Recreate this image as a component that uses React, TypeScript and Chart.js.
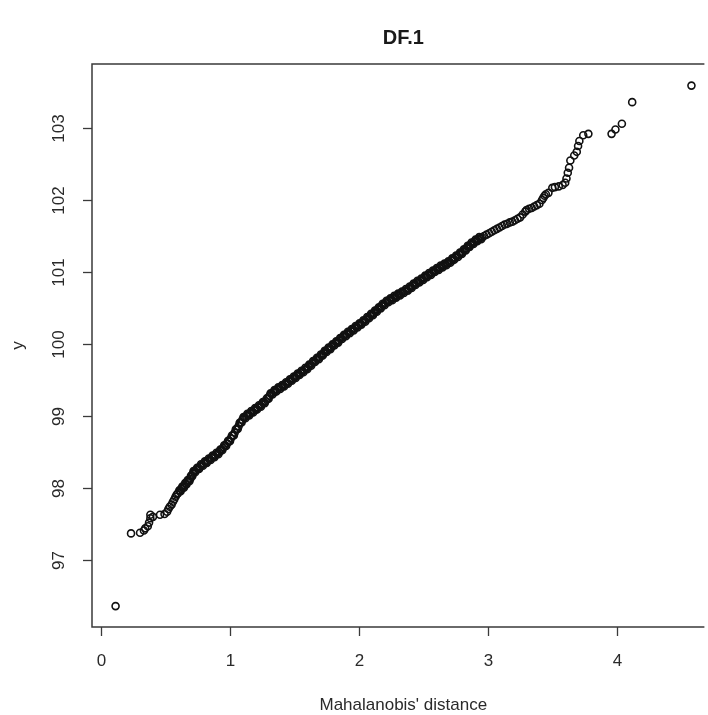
import React, { useEffect, useRef } from "react";
import { Chart, registerables } from "chart.js";

Chart.register(...registerables);

const chartTitle = "DF.1";
const xTitle = "Mahalanobis' distance";
const yTitle = "y";
const xTicks = [0, 1, 2, 3, 4];
const yTicks = [97, 98, 99, 100, 101, 102, 103];

// points (main pass)
const mahalanobis = [
  0.11, 0.23, 0.30, 0.33, 0.34, 0.36, 0.37, 0.38, 0.38, 0.40, 0.455, 0.49, 0.51, 0.52, 0.53, 0.545, 0.555, 0.565,
  0.575, 0.585, 0.595, 0.61, 0.62, 0.635, 0.645, 0.655, 0.665, 0.675, 0.69, 0.70, 0.71, 0.72, 0.735, 0.75, 0.765,
  0.78, 0.795, 0.81, 0.825, 0.84, 0.855, 0.87, 0.885, 0.90, 0.915, 0.93, 0.945, 0.96, 0.975, 0.99, 1.005, 1.02,
  1.035, 1.05, 1.065, 1.08, 1.095, 1.11, 1.125, 1.14, 1.155, 1.17, 1.185, 1.20, 1.215, 1.23, 1.245, 1.26, 1.275,
  1.29, 1.305, 1.32, 1.335, 1.35, 1.365, 1.38, 1.395, 1.41, 1.425, 1.44, 1.455, 1.47, 1.485, 1.50, 1.515, 1.53,
  1.545, 1.56, 1.575, 1.59, 1.605, 1.62, 1.635, 1.65, 1.665, 1.68, 1.695, 1.71, 1.725, 1.74, 1.755, 1.77, 1.785,
  1.80, 1.815, 1.83, 1.845, 1.86, 1.875, 1.89, 1.905, 1.92, 1.935, 1.95, 1.965, 1.98, 1.995, 2.01, 2.025, 2.04,
  2.055, 2.07, 2.085, 2.10, 2.115, 2.13, 2.145, 2.16, 2.175, 2.19, 2.205, 2.22, 2.235, 2.25, 2.265, 2.28, 2.295,
  2.31, 2.325, 2.34, 2.355, 2.37, 2.385, 2.40, 2.415, 2.43, 2.445, 2.46, 2.475, 2.49, 2.505, 2.52, 2.535, 2.55,
  2.565, 2.58, 2.595, 2.61, 2.625, 2.64, 2.655, 2.67, 2.685, 2.70, 2.715, 2.73, 2.745, 2.76, 2.775, 2.79, 2.805,
  2.82, 2.835, 2.85, 2.865, 2.88, 2.895, 2.91, 2.925, 2.94, 2.955, 2.97, 2.99, 3.01, 3.03, 3.05, 3.07, 3.09, 3.11,
  3.13, 3.15, 3.17, 3.19, 3.21, 3.23, 3.25, 3.27, 3.29, 3.30, 3.32, 3.34, 3.36, 3.38, 3.40, 3.42, 3.43, 3.44,
  3.45, 3.47, 3.50, 3.52, 3.55, 3.58, 3.60, 3.61, 3.62, 3.63, 3.64, 3.67, 3.69, 3.70, 3.71, 3.74, 3.78, 3.96,
  3.99, 4.04, 4.12, 4.58,
];

const yValues = [
  96.36, 97.37, 97.38, 97.41, 97.44, 97.47, 97.52, 97.58, 97.63, 97.60, 97.63, 97.64, 97.67, 97.71, 97.74, 97.77,
  97.81, 97.84, 97.88, 97.91, 97.93, 97.96, 97.99, 98.01, 98.04, 98.06, 98.08, 98.10, 98.13, 98.17, 98.20, 98.23,
  98.25, 98.27, 98.30, 98.32, 98.34, 98.36, 98.38, 98.40, 98.42, 98.44, 98.46, 98.48, 98.50, 98.53, 98.56, 98.59,
  98.62, 98.65, 98.69, 98.73, 98.77, 98.82, 98.86, 98.91, 98.95, 98.98, 99.00, 99.02, 99.04, 99.06, 99.08, 99.10,
  99.12, 99.14, 99.16, 99.19, 99.21, 99.24, 99.28, 99.31, 99.33, 99.35, 99.37, 99.39, 99.40, 99.42, 99.44, 99.46,
  99.48, 99.50, 99.52, 99.54, 99.56, 99.58, 99.60, 99.62, 99.64, 99.66, 99.68, 99.71, 99.73, 99.76, 99.78, 99.80,
  99.82, 99.85, 99.87, 99.90, 99.92, 99.94, 99.96, 99.99, 100.01, 100.03, 100.05, 100.08, 100.10, 100.12, 100.14,
  100.16, 100.18, 100.20, 100.22, 100.24, 100.26, 100.28, 100.30, 100.32, 100.34, 100.37, 100.39, 100.41, 100.43,
  100.46, 100.48, 100.50, 100.53, 100.55, 100.57, 100.59, 100.61, 100.62, 100.64, 100.66, 100.67, 100.69, 100.70,
  100.72, 100.74, 100.75, 100.77, 100.79, 100.81, 100.83, 100.85, 100.87, 100.88, 100.90, 100.92, 100.94, 100.96,
  100.97, 100.99, 101.01, 101.03, 101.04, 101.06, 101.08, 101.09, 101.11, 101.12, 101.14, 101.16, 101.18, 101.20,
  101.22, 101.24, 101.26, 101.28, 101.31, 101.33, 101.36, 101.38, 101.40, 101.42, 101.44, 101.46, 101.47, 101.48,
  101.50, 101.52, 101.54, 101.56, 101.58, 101.60, 101.62, 101.64, 101.66, 101.67, 101.69, 101.70, 101.72, 101.74,
  101.76, 101.80, 101.84, 101.86, 101.88, 101.89, 101.91, 101.93, 101.95, 102.00, 102.03, 102.06, 102.08, 102.10,
  102.17, 102.18, 102.19, 102.21, 102.24, 102.30, 102.38, 102.45, 102.55, 102.62, 102.67, 102.75, 102.82, 102.90,
  102.92, 102.92, 102.98, 103.06, 103.36, 103.59,
];

// extra points read in the dense band (the solid black stretch)
const mahalanobis2 = [
  0.605, 0.615, 0.628, 0.64, 0.65, 0.66, 0.67, 0.683, 0.695, 0.705, 0.715, 0.728, 0.743, 0.758, 0.773, 0.788,
  0.803, 0.818, 0.833, 0.848, 0.863, 0.878, 0.893, 0.908, 0.923, 0.938, 0.953, 0.968, 0.983, 0.998, 1.013, 1.028,
  1.043, 1.058, 1.073, 1.088, 1.103, 1.118, 1.133, 1.148, 1.163, 1.178, 1.193, 1.208, 1.223, 1.238, 1.253, 1.268,
  1.283, 1.298, 1.313, 1.328, 1.343, 1.358, 1.373, 1.388, 1.403, 1.418, 1.433, 1.448, 1.463, 1.478, 1.493, 1.508,
  1.523, 1.538, 1.553, 1.568, 1.583, 1.598, 1.613, 1.628, 1.643, 1.658, 1.673, 1.688, 1.703, 1.718, 1.733, 1.748,
  1.763, 1.778, 1.793, 1.808, 1.823, 1.838, 1.853, 1.868, 1.883, 1.898, 1.913, 1.928, 1.943, 1.958, 1.973, 1.988,
  2.003, 2.018, 2.033, 2.048, 2.063, 2.078, 2.093, 2.108, 2.123, 2.138, 2.153, 2.168, 2.183, 2.198, 2.213, 2.228,
  2.243, 2.258, 2.273, 2.288, 2.303, 2.318, 2.333, 2.348, 2.363, 2.378, 2.393, 2.408, 2.423, 2.438, 2.453, 2.468,
  2.483, 2.498, 2.513, 2.528, 2.543, 2.558, 2.573, 2.588, 2.603, 2.618, 2.633, 2.648, 2.663, 2.678, 2.693, 2.708,
  2.723, 2.738, 2.753, 2.768, 2.783, 2.798, 2.813, 2.828, 2.843, 2.858, 2.873, 2.888, 2.903, 2.918, 2.933, 2.948,
];

const yValues2 = [
  97.97, 97.955, 98.02, 98.005, 98.07, 98.05, 98.11, 98.095, 98.17, 98.165, 98.235, 98.22, 98.28, 98.265, 98.33,
  98.31, 98.37, 98.35, 98.41, 98.39, 98.45, 98.43, 98.49, 98.47, 98.535, 98.525, 98.595, 98.585, 98.655, 98.65,
  98.73, 98.73, 98.815, 98.82, 98.905, 98.91, 98.985, 98.97, 99.03, 99.01, 99.07, 99.05, 99.11, 99.09, 99.15,
  99.13, 99.195, 99.18, 99.245, 99.24, 99.315, 99.30, 99.36, 99.34, 99.40, 99.375, 99.43, 99.41, 99.47, 99.45,
  99.51, 99.49, 99.55, 99.53, 99.59, 99.57, 99.63, 99.61, 99.67, 99.65, 99.715, 99.70, 99.765, 99.75, 99.81,
  99.79, 99.855, 99.84, 99.905, 99.89, 99.95, 99.93, 99.995, 99.98, 100.04, 100.02, 100.085, 100.07, 100.13,
  100.11, 100.17, 100.15, 100.21, 100.19, 100.25, 100.23, 100.29, 100.27, 100.33, 100.31, 100.375, 100.36, 100.42,
  100.40, 100.465, 100.45, 100.51, 100.495, 100.56, 100.54, 100.60, 100.58, 100.635, 100.61, 100.67, 100.645,
  100.70, 100.675, 100.73, 100.71, 100.765, 100.74, 100.80, 100.78, 100.84, 100.82, 100.88, 100.855, 100.91,
  100.89, 100.95, 100.93, 100.985, 100.96, 101.02, 101.00, 101.055, 101.03, 101.09, 101.065, 101.12, 101.095,
  101.15, 101.13, 101.19, 101.17, 101.23, 101.21, 101.27, 101.25, 101.315, 101.30, 101.365, 101.35, 101.41,
  101.39, 101.45, 101.43, 101.485, 101.455,
];

const FONT = "'Liberation Sans', Arial, sans-serif";

const rAxes = {
  id: "rAxes",
  afterDraw(chart: any) {
    const ctx = chart.ctx as CanvasRenderingContext2D;
    const { left, top, bottom, right } = chart.chartArea;
    const xs = chart.scales.x;
    const ys = chart.scales.y;
    ctx.save();
    ctx.strokeStyle = "#3a3a3a";
    ctx.lineWidth = 1.5;
    ctx.beginPath();
    ctx.moveTo(right + 2, top);
    ctx.lineTo(left, top);
    ctx.lineTo(left, bottom);
    ctx.lineTo(right + 2, bottom);
    ctx.stroke();

    ctx.fillStyle = "#2a2a2a";
    ctx.font = `17px ${FONT}`;
    ctx.textAlign = "center";
    ctx.textBaseline = "middle";
    ctx.lineWidth = 1.3;
    for (const t of xTicks) {
      const px = Math.round(xs.getPixelForValue(t)) + 0.5;
      ctx.beginPath();
      ctx.moveTo(px, bottom);
      ctx.lineTo(px, bottom + 9);
      ctx.stroke();
      ctx.fillText(String(t), px, bottom + 34);
    }
    for (const t of yTicks) {
      const py = Math.round(ys.getPixelForValue(t)) + 0.5;
      ctx.beginPath();
      ctx.moveTo(left, py);
      ctx.lineTo(left - 9, py);
      ctx.stroke();
      ctx.save();
      ctx.translate(left - 33, py);
      ctx.rotate(-Math.PI / 2);
      ctx.fillText(String(t), 0, 0);
      ctx.restore();
    }
    const plotCenter = (left + xs.getPixelForValue(4.76)) / 2;
    ctx.fillText(xTitle, plotCenter, bottom + 78);
    ctx.save();
    ctx.translate(left - 74, (top + bottom) / 2);
    ctx.rotate(-Math.PI / 2);
    ctx.fillText(yTitle, 0, 0);
    ctx.restore();
    ctx.font = `bold 20px ${FONT}`;
    ctx.fillStyle = "#1a1a1a";
    ctx.fillText(chartTitle, plotCenter, 38);
    ctx.restore();
  },
};

export default function App() {
  const ref = useRef<HTMLCanvasElement | null>(null);
  useEffect(() => {
    if (!ref.current) return;
    const points = mahalanobis
      .map((x, i) => ({ x, y: yValues[i] }))
      .concat(mahalanobis2.map((x, i) => ({ x, y: yValues2[i] })));
    const chart = new Chart(ref.current, {
      type: "scatter",
      data: {
        datasets: [
          {
            data: points,
            pointStyle: "circle",
            pointRadius: 3.5,
            pointBorderWidth: 1.6,
            pointBorderColor: "#111111",
            pointBackgroundColor: "rgba(0,0,0,0)",
          },
        ],
      },
      options: {
        responsive: false,
        animation: false,
        layout: { padding: { left: 92, top: 64, right: 0, bottom: 88 } },
        plugins: { legend: { display: false }, tooltip: { enabled: false }, title: { display: false } },
        scales: {
          x: { type: "linear", min: -0.073, max: 4.665, display: false },
          y: { type: "linear", min: 96.07, max: 103.89, display: false },
        },
      },
      plugins: [rAxes],
    });
    return () => chart.destroy();
  }, []);
  return (
    <div style={{ position: "absolute", left: 0, top: 0, width: 708, height: 715, background: "#fff", overflow: "hidden" }}>
      <canvas ref={ref} width={708} height={715} style={{ display: "block" }} />
    </div>
  );
}
